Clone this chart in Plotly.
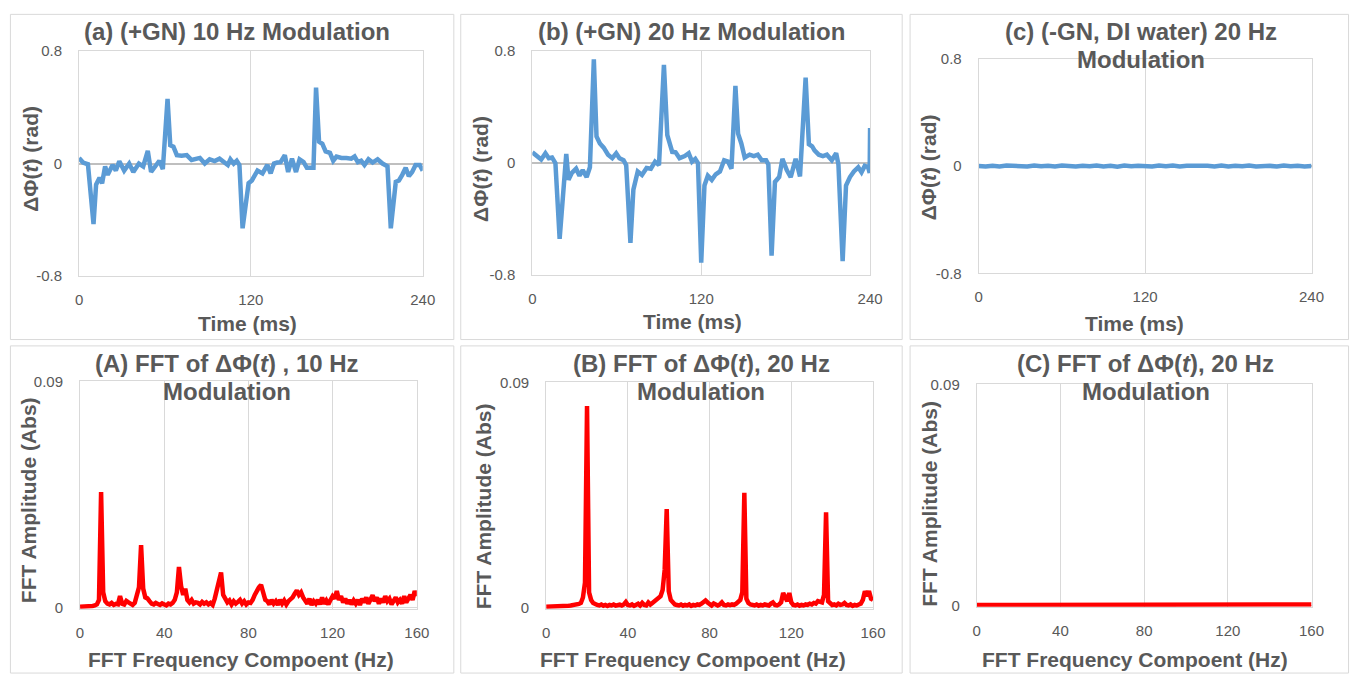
import plotly.graph_objects as go

W, H = 1366, 683

# ---------------- data ----------------
time_a = [0, 2.8, 6.2, 10.1, 11.9, 14.3, 16.1, 18.2, 20, 23.4, 25.7, 28.1, 31.5, 35, 37.9, 41.8, 44.8, 48, 50.3,
          53.3, 56.1, 58.5, 61.8, 63.7, 65.9, 68.3, 71.7, 75.2, 78.6, 84.4, 87.8, 91.2, 94.7, 98.1, 101.6, 103.9,
          105.7, 108, 110.1, 112, 114.2, 116.6, 118.4, 120.7, 124.6, 128.1, 131.5, 133.8, 136.1, 138.4, 140.7,
          143.7, 146, 148.7, 151.5, 154, 156.8, 159.1, 163.7, 165.5, 167.6, 169.9, 172.2, 175.2, 177.5, 179.8,
          183.2, 186.7, 190.1, 192.4, 194.7, 197, 199.3, 202.1, 205, 208.5, 211.9, 215.4, 217.7, 221.2, 223.4,
          225.7, 228.1, 230.3, 232.6, 235, 237.9, 240]
phase_a = [0.039, 0.007, -0.005, -0.43, -0.15, -0.10, -0.14, -0.02, -0.08, -0.01, -0.05, 0.016, -0.05, 0.0, -0.06,
           0.0, -0.02, 0.09, -0.06, -0.02, 0.02, -0.04, 0.46, 0.13, 0.12, 0.06, 0.055, 0.06, 0.025, 0.04, 0.0, 0.03,
           0.018, 0.035, 0.01, -0.01, 0.03, 0.0, 0.02, -0.01, -0.46, -0.24, -0.14, -0.12, -0.05, -0.07, -0.01, -0.07,
           0.0, 0.007, 0.01, 0.06, -0.06, 0.035, -0.06, 0.03, 0.01, -0.03, -0.03, 0.54, 0.155, 0.14, 0.086, 0.076,
           0.02, 0.05, 0.04, 0.04, 0.035, 0.05, 0.01, 0.02, -0.01, 0.03, 0.007, 0.03, 0.0, -0.02, -0.46, -0.13,
           -0.12, -0.08, -0.03, -0.09, -0.06, -0.01, -0.01, -0.05]

time_b = [0, 3.5, 6.3, 9.3, 11.7, 14, 16.4, 19.4, 21.8, 24.1, 25.7, 28.1, 31.1, 33.5, 35.8, 38.6, 40.9, 43.7, 45.6,
          48, 50.7, 53.8, 56.8, 59.6, 61.9, 64.8, 66.7, 69.7, 71.8, 74.9, 77.9, 81.2, 84.2, 87.2, 90, 93.5, 95.9,
          99.4, 101.8, 104.6, 108.3, 111.1, 113.5, 115.8, 117.7, 120, 122.3, 124.7, 127.5, 130.3, 133.3, 136.3,
          139.1, 141.5, 144.3, 146.2, 148.5, 150.9, 154.4, 157.4, 160.2, 163, 166.1, 167.7, 170, 172.4, 175.4,
          177.7, 180.8, 183.6, 187.1, 190.2, 194.2, 196.5, 198.8, 200.5, 203.5, 206.5, 209.3, 212.8, 215.9, 217.5,
          220.5, 222.9, 225.7, 228.5, 231.6, 233.9, 236.2, 238.6, 239.7, 240]
phase_b = [0.077, 0.053, 0.026, 0.07, 0.035, 0.04, 0.0, -0.54, -0.18, 0.065, -0.12, -0.07, -0.04, -0.09, -0.05,
           -0.10, -0.03, 0.74, 0.19, 0.14, 0.11, 0.06, 0.035, 0.07, 0.035, 0.02, -0.015, -0.57, -0.19, -0.06, -0.085,
           -0.035, -0.04, 0.01, -0.015, 0.70, 0.20, 0.08, 0.077, 0.035, 0.05, 0.07, 0.01, 0.03, 0.0, -0.71, -0.16,
           -0.09, -0.12, -0.08, -0.06, 0.02, 0.01, -0.04, 0.55, 0.21, 0.14, 0.04, 0.06, 0.05, 0.06, 0.02, 0.02,
           -0.01, -0.66, -0.135, -0.10, 0.03, -0.05, -0.10, 0.03, -0.095, 0.61, 0.135, 0.12, 0.09, 0.06, 0.05, 0.06,
           0.02, 0.07, -0.01, -0.70, -0.16, -0.10, -0.06, -0.03, -0.065, -0.02, -0.03, -0.07, 0.25]

time_c = list(range(0, 241, 5))
phase_c = [0.0, -0.004, 0.002, -0.003, 0.003, -0.002, 0.001, -0.004, 0.004, -0.002, 0.002, -0.003, 0.003, 0.0,
           -0.004, 0.002, -0.002, 0.004, -0.003, 0.001, -0.005, 0.003, -0.002, 0.002, 0.0, -0.003, 0.004, -0.002,
           0.003, -0.004, 0.001, 0.003, -0.002, 0.002, -0.003, 0.004, -0.004, 0.002, -0.002, 0.003, -0.003, 0.002,
           0.001, -0.004, 0.003, -0.002, 0.002, -0.003, 0.0]

freq_A = list(range(0, 161))
amp_A = [0.0003, 0.0003, 0.0004, 0.0004, 0.0005, 0.0005, 0.0006, 0.0008, 0.0012, 0.003,
         0.046, 0.006, 0.0025, 0.0015, 0.0012, 0.0018, 0.0010, 0.0014, 0.0012, 0.0045,
         0.0015, 0.0012, 0.0026, 0.0020, 0.0012, 0.0010, 0.0018, 0.0045, 0.008, 0.0248,
         0.0075, 0.004, 0.0036, 0.0025, 0.0015, 0.0012, 0.0018, 0.0014, 0.0010, 0.0016,
         0.0012, 0.0008, 0.0015, 0.0012, 0.0018, 0.0030, 0.0060, 0.0161, 0.0085, 0.0050,
         0.0075, 0.0030, 0.0020, 0.0030, 0.0015, 0.0020, 0.0018, 0.0012, 0.0022, 0.0015,
         0.0020, 0.0012, 0.0018, 0.0010, 0.0035, 0.0075, 0.0100, 0.0139, 0.0050, 0.0036,
         0.0020, 0.0028, 0.0012, 0.0025, 0.0015, 0.0022, 0.0030, 0.0015, 0.0025, 0.0012,
         0.0020, 0.0018, 0.0030, 0.0050, 0.0070, 0.0080, 0.0090, 0.0050, 0.0030, 0.0025,
         0.0012, 0.0030, 0.0015, 0.0025, 0.0010, 0.0030, 0.0015, 0.0028, 0.0012, 0.0025,
         0.0030, 0.0040, 0.0055, 0.0068, 0.0050, 0.0060, 0.0040, 0.0030, 0.0015, 0.0035,
         0.0010, 0.0025, 0.0015, 0.0030, 0.0012, 0.0040, 0.0015, 0.0028, 0.0012, 0.0030,
         0.0045, 0.0035, 0.0065, 0.0030, 0.0045, 0.0020, 0.0035, 0.0015, 0.0030, 0.0012,
         0.0028, 0.0015, 0.0030, 0.0010, 0.0035, 0.0020, 0.0040, 0.0015, 0.0030, 0.0048,
         0.0025, 0.0040, 0.0015, 0.0035, 0.0020, 0.0045, 0.0025, 0.0035, 0.0012, 0.0030,
         0.0040, 0.0020, 0.0030, 0.0015, 0.0045, 0.0020, 0.0035, 0.0050, 0.0030, 0.0065,
         0.0045]

freq_B = list(range(0, 161))
amp_B = [0.0003, 0.0003, 0.0003, 0.0004, 0.0004, 0.0004, 0.0005, 0.0005, 0.0005, 0.0006,
         0.0006, 0.0007, 0.0008, 0.0009, 0.0010, 0.0012, 0.0014, 0.0018, 0.0040, 0.0100,
         0.0806, 0.0060, 0.0030, 0.0018, 0.0012, 0.0010, 0.0008, 0.0012, 0.0007, 0.0010,
         0.0006, 0.0010, 0.0008, 0.0012, 0.0007, 0.0009, 0.0011, 0.0008, 0.0012, 0.0022,
         0.0010, 0.0008, 0.0012, 0.0006, 0.0010, 0.0015, 0.0008, 0.0018, 0.0010, 0.0008,
         0.0020, 0.0012, 0.0018, 0.0025, 0.0030, 0.0038, 0.0045, 0.0070, 0.0150, 0.0394,
         0.0065, 0.0030, 0.0018, 0.0012, 0.0010, 0.0008, 0.0012, 0.0007, 0.0010, 0.0008,
         0.0012, 0.0006, 0.0010, 0.0008, 0.0012, 0.0010, 0.0015, 0.0022, 0.0028, 0.0020,
         0.0012, 0.0008, 0.0016, 0.0010, 0.0008, 0.0012, 0.0020, 0.0010, 0.0008, 0.0012,
         0.0009, 0.0012, 0.0010, 0.0015, 0.0020, 0.0030, 0.0060, 0.0459, 0.0035, 0.0018,
         0.0012, 0.0010, 0.0008, 0.0012, 0.0007, 0.0010, 0.0008, 0.0012, 0.0010, 0.0008,
         0.0015, 0.0020, 0.0010, 0.0008, 0.0012, 0.0020, 0.0058, 0.0040, 0.0025, 0.0058,
         0.0020, 0.0010, 0.0008, 0.0012, 0.0007, 0.0010, 0.0008, 0.0012, 0.0010, 0.0015,
         0.0012, 0.0018, 0.0015, 0.0025, 0.0020, 0.0020, 0.0050, 0.0381, 0.0025, 0.0015,
         0.0010, 0.0012, 0.0008, 0.0015, 0.0010, 0.0012, 0.0018, 0.0010, 0.0008, 0.0012,
         0.0006, 0.0010, 0.0008, 0.0012, 0.0015, 0.0030, 0.0065, 0.0045, 0.0065, 0.0035,
         0.0030]

freq_C = list(range(0, 161, 5))
amp_C = [0.0002, 0.0002, 0.0003, 0.0002, 0.0002, 0.0003, 0.0002, 0.0002, 0.0003, 0.0002, 0.0002,
         0.0003, 0.0002, 0.0003, 0.0002, 0.0002, 0.0003, 0.0002, 0.0003, 0.0002, 0.0003, 0.0002,
         0.0003, 0.0003, 0.0002, 0.0003, 0.0003, 0.0002, 0.0003, 0.0004, 0.0003, 0.0004, 0.0004]

time_ticks = [0, 120, 240]
phase_ticks = [-0.8, 0, 0.8]
phase_tick_text = ["-0.8", "0", "0.8"]
freq_ticks = [0, 40, 80, 120, 160]
amp_ticks = [0, 0.09]
amp_tick_text = ["0", "0.09"]

titles = [
    ["(a) (+GN) 10 Hz Modulation"],
    ["(b) (+GN) 20 Hz Modulation"],
    ["(c) (-GN, DI water) 20 Hz", "Modulation"],
    ["(A) FFT of ΔΦ(<i>t</i>) , 10 Hz", "Modulation"],
    ["(B) FFT of ΔΦ(<i>t</i>), 20 Hz", "Modulation"],
    ["(C) FFT of ΔΦ(<i>t</i>), 20 Hz", "Modulation"],
]

# ---------------- layout helpers ----------------
def px(x):
    return x / W

def py(y):
    return 1 - y / H

TXT = "#595959"
GRID = "#d9d9d9"
BLUE = "#5B9BD5"
RED = "#FF0000"
FONT = "Liberation Sans"

# plot areas in pixels: (left, right, top, bottom)
areas = [
    (76, 424, 43, 274),
    (535, 877, 43, 273),
    (987, 1324, 51, 271),
    (77, 418, 382, 615),
    (549, 880, 383, 615),
    (985, 1324, 385, 613),
]

fig = go.Figure()

series = [
    (time_a, phase_a, BLUE), (time_b, phase_b, BLUE), (time_c, phase_c, BLUE),
    (freq_A, amp_A, RED), (freq_B, amp_B, RED), (freq_C, amp_C, RED),
]
for i, (xs, ys, col) in enumerate(series):
    n = "" if i == 0 else str(i + 1)
    fig.add_trace(go.Scatter(x=xs, y=ys, mode="lines", line=dict(color=col, width=4.5),
                             xaxis="x" + n, yaxis="y" + n, showlegend=False, hoverinfo="skip"))

layout = dict(width=W, height=H, margin=dict(l=0, r=0, t=0, b=0),
              paper_bgcolor="white", plot_bgcolor="white", showlegend=False)

tickfont = dict(family=FONT, size=15, color=TXT)
for i, (l, r, t, b) in enumerate(areas):
    n = "" if i == 0 else str(i + 1)
    is_time = i < 3
    xa = dict(domain=[px(l), px(r)], anchor="y" + n,
              range=[0, 240] if is_time else [0, 160],
              tickvals=time_ticks if is_time else freq_ticks,
              showline=True, mirror=True, linecolor=GRID, linewidth=1,
              showgrid=True, gridcolor=GRID, gridwidth=1, zeroline=False,
              ticks="", tickfont=tickfont, ticklabelstandoff=10, fixedrange=True)
    ya = dict(domain=[py(b), py(t)], anchor="x" + n,
              range=[-0.8, 0.8] if is_time else [-0.0005, 0.09],
              tickvals=phase_ticks if is_time else amp_ticks,
              ticktext=phase_tick_text if is_time else amp_tick_text,
              showline=True, mirror=True, linecolor=GRID, linewidth=1,
              showgrid=True, gridcolor=GRID, gridwidth=1,
              zeroline=is_time, zerolinecolor="#bfbfbf", zerolinewidth=1.5,
              ticks="", tickfont=tickfont, ticklabelstandoff=13, fixedrange=True)
    layout["xaxis" + n] = xa
    layout["yaxis" + n] = ya

fig.update_layout(**layout)

# panel boxes
boxes = [(6.5, 455.5, 5.5, 339), (462.5, 909.5, 5.5, 339), (917.5, 1361.5, 5.5, 339),
         (6.5, 455.5, 345.5, 681), (462.5, 909.5, 345.5, 681), (917.5, 1361.5, 345.5, 681)]
for (x0, x1, y0, y1) in boxes:
    fig.add_shape(type="rect", xref="paper", yref="paper", x0=px(x0), x1=px(x1), y0=py(y1), y1=py(y0),
                  line=dict(color=GRID, width=1), fillcolor="rgba(0,0,0,0)", layer="below")

def note(text, x, y, size, angle=0):
    fig.add_annotation(text=text, x=px(x), y=py(y), xref="paper", yref="paper",
                       xanchor="center", yanchor="middle", showarrow=False, textangle=angle,
                       font=dict(family=FONT, size=size, color=TXT, weight="bold"))

# chart titles
title_pos = [(236, [23]), (696, [23]), (1151, [23, 52]), (226, [364, 392]), (706, [364, 392]), (1156, [364, 392])]
for lines, (cx, ys) in zip(titles, title_pos):
    for txt, yy in zip(lines, ys):
        note(txt, cx, yy, 24)

# axis titles
xtitles = [("Time (ms)", 247, 323), ("Time (ms)", 697, 320), ("Time (ms)", 1145, 323),
           ("FFT Frequency Compoent (Hz)", 240, 667), ("FFT Frequency Compoent (Hz)", 698, 667),
           ("FFT Frequency Compoent (Hz)", 1145, 667)]
for txt, x, y in xtitles:
    note(txt, x, y, 21)

ytitles = [("ΔΦ(<i>t</i>) (rad)", 27, 154), ("ΔΦ(<i>t</i>) (rad)", 483, 164), ("ΔΦ(<i>t</i>) (rad)", 937, 162),
           ("FFT Amplitude (Abs)", 25, 504), ("FFT Amplitude (Abs)", 485, 510), ("FFT Amplitude (Abs)", 937, 507)]
for txt, x, y in ytitles:
    note(txt, x, y, 21, angle=-90)

fig.write_html("out.html")
